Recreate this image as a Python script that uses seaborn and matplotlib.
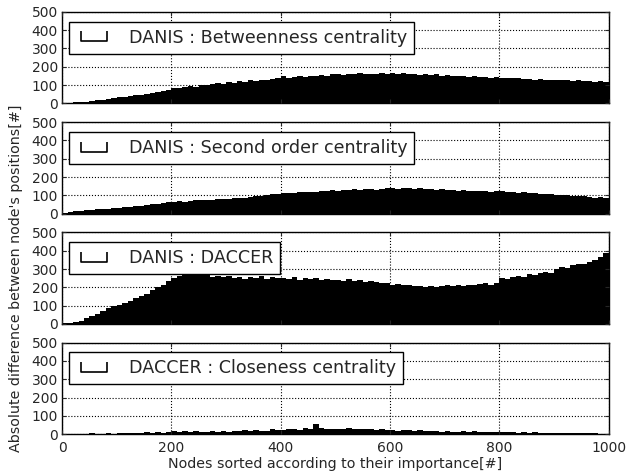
import matplotlib
matplotlib.use("Agg")
import matplotlib.pyplot as plt
from matplotlib.lines import Line2D
import seaborn as sns

# node bins (each value covers 10 consecutive nodes)
nodes = list(range(0, 1000, 10))

betweenness = [3, 4, 5, 8, 10, 13, 16, 20, 24, 30,
               33, 36, 40, 44, 48, 52, 57, 62, 68, 75,
               85, 82, 90, 95, 92, 100, 98, 105, 110, 108,
               115, 112, 120, 118, 125, 122, 130, 128, 135, 140,
               148, 138, 145, 150, 142, 152, 148, 155, 150, 158,
               160, 155, 162, 158, 165, 160, 163, 158, 166, 162,
               168, 160, 165, 158, 162, 156, 160, 155, 158, 152,
               156, 150, 148, 152, 145, 150, 142, 146, 140, 143,
               140, 138, 136, 140, 132, 135, 130, 134, 128, 130,
               128, 125, 130, 122, 126, 120, 124, 118, 122, 115]

second_order = [5, 8, 12, 15, 18, 20, 23, 26, 28, 30,
                33, 35, 38, 40, 43, 46, 50, 55, 58, 62,
                65, 68, 66, 70, 72, 74, 73, 76, 78, 80,
                82, 85, 84, 88, 92, 95, 98, 102, 105, 110,
                112, 115, 113, 118, 116, 120, 118, 122, 125, 128,
                126, 130, 128, 132, 130, 135, 133, 130, 136, 138,
                140, 135, 138, 142, 136, 138, 133, 135, 130, 132,
                128, 130, 126, 128, 124, 126, 122, 125, 120, 122,
                122, 118, 120, 115, 116, 112, 113, 108, 110, 105,
                104, 100, 102, 97, 98, 94, 92, 88, 90, 85]

daccer = [3, 5, 8, 15, 30, 45, 55, 70, 85, 100,
          105, 115, 125, 140, 150, 165, 185, 200, 215, 235,
          250, 260, 270, 280, 275, 265, 270, 258, 262, 255,
          260, 250, 255, 248, 258, 252, 262, 245, 255, 250,
          252, 245, 258, 240, 250, 244, 252, 238, 246, 242,
          240, 236, 244, 232, 238, 230, 236, 228, 225, 222,
          215, 218, 210, 212, 205, 208, 202, 206, 200, 205,
          210, 205, 212, 208, 215, 210, 218, 222, 215, 225,
          250, 245, 255, 260, 258, 270, 265, 280, 285, 278,
          300, 310, 305, 320, 330, 325, 340, 350, 365, 385]

closeness = [2, 3, 2, 3, 2, 4, 3, 2, 4, 3,
             4, 5, 7, 6, 8, 10, 8, 12, 9, 14,
             18, 12, 20, 11, 15, 12, 11, 16, 14, 19,
             14, 15, 19, 22, 16, 24, 20, 17, 26, 22,
             24, 28, 30, 25, 33, 28, 55, 34, 29, 31,
             27, 30, 33, 28, 31, 26, 29, 24, 28, 22,
             24, 20, 25, 21, 18, 22, 19, 16, 18, 14,
             16, 13, 14, 17, 13, 15, 12, 14, 13, 11,
             11, 10, 12, 9, 10, 9, 10, 8, 9, 7,
             7, 6, 7, 5, 6, 5, 4, 4, 3, 3]

series = [betweenness, second_order, daccer, closeness]
titles = ["DANIS : Betweenness centrality",
          "DANIS : Second order centrality",
          "DANIS : DACCER",
          "DACCER : Closeness centrality"]

sns.set_style("ticks")
plt.rcParams.update({
    "font.family": ["DejaVu Sans"],
    "xtick.direction": "in",
    "ytick.direction": "in",
    "xtick.top": True,
    "ytick.right": True,
    "xtick.major.size": 3,
    "ytick.major.size": 3,
    "axes.edgecolor": "black",
    "axes.linewidth": 1.0,
})

fig, axes = plt.subplots(4, 1, figsize=(6.28, 4.74), dpi=100, sharex=True)
fig.subplots_adjust(left=0.099, right=0.969, bottom=0.084, top=0.975, hspace=0.205)

handle_marker = [(-1, 0.35), (-1, -0.35), (1, -0.35), (1, 0.35)]

for ax, vals, title in zip(axes, series, titles):
    sns.histplot(x=nodes, weights=vals, bins=100, binrange=(0, 1000),
                 color="black", edgecolor="black", linewidth=0, alpha=1, ax=ax)
    ax.set_xlim(0, 1000)
    ax.set_ylim(0, 500)
    ax.set_yticks(range(0, 501, 100))
    ax.set_xticks(range(0, 1001, 200))
    ax.tick_params(axis="y", labelsize=10, pad=3)
    ax.tick_params(axis="x", labelsize=10, pad=5)
    ax.grid(True, color="black", linestyle=":", linewidth=0.8)
    ax.set_axisbelow(False)
    ax.set_ylabel("")
    h = Line2D([], [], linestyle="none", marker=handle_marker, markersize=19,
               markerfacecolor="none", markeredgecolor="black", markeredgewidth=1.2)
    leg = ax.legend([h], [title], loc="upper left", fontsize=12.6, fancybox=False,
                    framealpha=1, borderpad=0.4, handlelength=2.0, handletextpad=1.0,
                    bbox_to_anchor=(0.0, 0.97), borderaxespad=0.4)
    leg.get_frame().set_edgecolor("black")
    leg.get_frame().set_linewidth(1.0)

axes[-1].set_xlabel("Nodes sorted according to their importance[#]", fontsize=10.3, labelpad=1)
axes[2].set_ylabel("Absolute difference between node's positions[#]", fontsize=10.3, labelpad=6)

fig.savefig("out.png", dpi=100, facecolor="white")
